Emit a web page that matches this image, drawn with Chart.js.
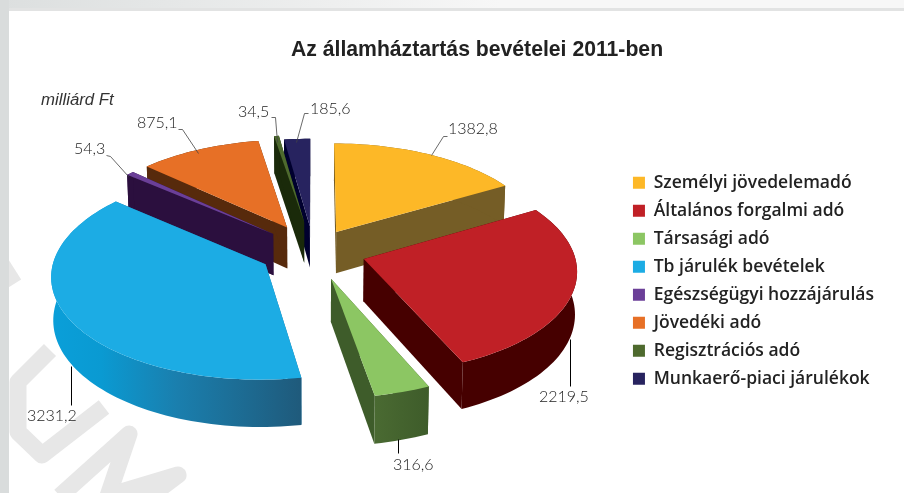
<!DOCTYPE html>
<html lang="hu"><head><meta charset="utf-8">
<style>html,body{margin:0;padding:0;background:#fff}canvas{display:block}</style>
<script src="https://cdn.jsdelivr.net/npm/chart.js@4"></script></head>
<body><canvas id="c" width="904" height="493"></canvas>
<script>
const chartTitle = "Az államháztartás bevételei 2011-ben";
const unitLabel = "milliárd Ft";
const categories = ["Személyi jövedelemadó","Általános forgalmi adó","Társasági adó","Tb járulék bevételek","Egészségügyi hozzájárulás","Jövedéki adó","Regisztrációs adó","Munkaerő-piaci járulékok"];
const values = [1382.8,2219.5,316.6,3231.2,54.3,875.1,34.5,185.6];
const valueLabels = ["1382,8","2219,5","316,6","3231,2","54,3","875,1","34,5","185,6"];
const topColors = ["#fdb827","#c02026","#8cc663","#1cace4","#6b3f98","#e77026","#4e6a2e","#27235f"];
const wallColors = ["#755d26","#460000","#3e5c2a","#1b6e9a","#2b0f3e","#572a0c","#1a2a0a","#00002e"];
const explodePercent = [22,25,28,26,26,27,30,25];

// projection of the pie's plane (perspective view)
const V = {cx:313.5, cy:251, rx:210, ry:101, c:0.10, depth:42};
const project = (u,v) => { const w = 1 - V.c*v; return [V.cx + V.rx*u/w, V.cy + V.ry*v/w, w]; };
const lower = p => [V.cx + (p[0]-V.cx)*0.992, p[1] + V.depth/p[2]];

function poly(ctx, pts, fill){
  ctx.beginPath(); pts.forEach((p,i)=> i?ctx.lineTo(p[0],p[1]):ctx.moveTo(p[0],p[1]));
  ctx.closePath(); ctx.fillStyle = fill; ctx.fill();
}
function rimGradient(ctx,i,x0,x1){
  if(i===3){ const g=ctx.createLinearGradient(x0,0,x1,0); g.addColorStop(0,"#0a9fd9"); g.addColorStop(0.2,"#0a9ad2"); g.addColorStop(0.5,"#1a7fae"); g.addColorStop(1,"#1f5a7b"); return g; }
  if(i===2){ const g=ctx.createLinearGradient(x0,0,x1,0); g.addColorStop(0,"#4a6a32"); g.addColorStop(1,"#3e5c2a"); return g; }
  return wallColors[i];
}
const drawOrder = [0,7,6,5,4,3,1,2];
const pie3d = {
  id:"pie3d",
  beforeDraw(chart){
    const ctx = chart.ctx; ctx.save();
    ctx.fillStyle="#fff"; ctx.fillRect(0,0,904,493);
    // watermark strokes
    ctx.strokeStyle="#e7e7e7"; ctx.lineWidth=17; ctx.lineJoin="round";
    [[[50,350],[18,382],[18,432],[42,455],[104,407]],[[60,496],[129,434],[108,496]],[[108,496],[178,475],[150,496]],[[0,262],[14,284]]].forEach(s=>{
      ctx.beginPath(); s.forEach((p,i)=> i?ctx.lineTo(p[0],p[1]):ctx.moveTo(p[0],p[1])); ctx.stroke();
    });
    const g=ctx.createLinearGradient(0,0,500,0); g.addColorStop(0,"#dcdfdf"); g.addColorStop(1,"#f7f7f7");
    ctx.fillStyle=g; ctx.fillRect(0,0,904,8);
    ctx.fillStyle="#e2e3e3"; ctx.fillRect(9,8,895,3);
    ctx.fillStyle="#d9dcdc"; ctx.fillRect(0,0,9,493);
    ctx.restore();
  },
  beforeDatasetsDraw(chart){
    const ctx = chart.ctx, arcs = chart.getDatasetMeta(0).data;
    const faces = arcs.map((el,i)=>{
      const a0=el.startAngle, a1=el.endAngle, mid=(a0+a1)/2, d=el.options.offset/100;
      const du=Math.cos(mid)*d, dv=Math.sin(mid)*d, rim=[];
      const n=Math.max(2,Math.ceil((a1-a0)/0.03));
      for(let k=0;k<=n;k++){ const a=a0+(a1-a0)*k/n; rim.push(project(du+Math.cos(a),dv+Math.sin(a))); }
      return {apex:project(du,dv),rim};
    });
    drawOrder.forEach(i=>{
      const {apex,rim}=faces[i], first=rim[0], last=rim[rim.length-1];
      poly(ctx,[apex,first,lower(first),lower(apex)],wallColors[i]);
      poly(ctx,[apex,last,lower(last),lower(apex)],wallColors[i]);
      const xs=rim.map(p=>p[0]);
      poly(ctx,[...rim,...rim.slice().reverse().map(lower)],rimGradient(ctx,i,Math.min(...xs),Math.max(...xs)));
      poly(ctx,[apex,...rim],topColors[i]);
    });
    return false;
  },
  afterDraw(chart){
    const ctx=chart.ctx; ctx.save();
    ctx.textBaseline="middle"; ctx.textAlign="left";
    const leaders=[
      {pts:[[431,155],[443,136],[447,136]],x:448,y:129},
      {pts:[[570,339],[570,386]],x:539,y:397,k:1},
      {pts:[[398,439],[398,453]],x:393,y:465,k:1},
      {pts:[[71,366],[71,405]],x:27,y:416,k:1},
      {pts:[[128,176],[110,156],[106,155]],x:74,y:149},
      {pts:[[198,153],[182,129],[178,129]],x:137,y:123},
      {pts:[[277,142],[275,117],[271,117]],x:238,y:112},
      {pts:[[296,142],[304,113],[308,113]],x:310,y:109}
    ];
    leaders.forEach((l,i)=>{
      ctx.beginPath(); l.pts.forEach((p,k)=> k?ctx.lineTo(p[0]+.5,p[1]+.5):ctx.moveTo(p[0]+.5,p[1]+.5));
      ctx.strokeStyle=l.k?"#000":"#444"; ctx.lineWidth=l.k?1:0.8; ctx.stroke();
      ctx.font="300 16px Lato"; ctx.fillStyle="#222";
      ctx.fillText(valueLabels[i],l.x,l.y);
    });
    ctx.font="italic 16.8px 'Liberation Sans'"; ctx.fillStyle="#333";
    ctx.fillText(unitLabel,41,100);
    ctx.restore();
  }
};
Chart.defaults.animation=false;
new Chart(document.getElementById("c"),{
  type:"pie",
  data:{labels:categories,datasets:[{data:values,backgroundColor:topColors,borderWidth:0,offset:explodePercent}]},
  plugins:[pie3d],
  options:{responsive:false,animation:false,
    layout:{padding:{left:70,top:28,right:20,bottom:95}},
    plugins:{
      tooltip:{enabled:false},
      title:{display:true,text:chartTitle,color:"#222",font:{family:"'Liberation Sans'",size:21.2,weight:"bold"},padding:{top:9,bottom:20}},
      legend:{position:"right",align:"end",labels:{boxWidth:12,boxHeight:12,padding:10.5,color:"#222",font:{family:"'Open Sans'",size:17.5,weight:"600"}}}
    }}
});
</script></body></html>
